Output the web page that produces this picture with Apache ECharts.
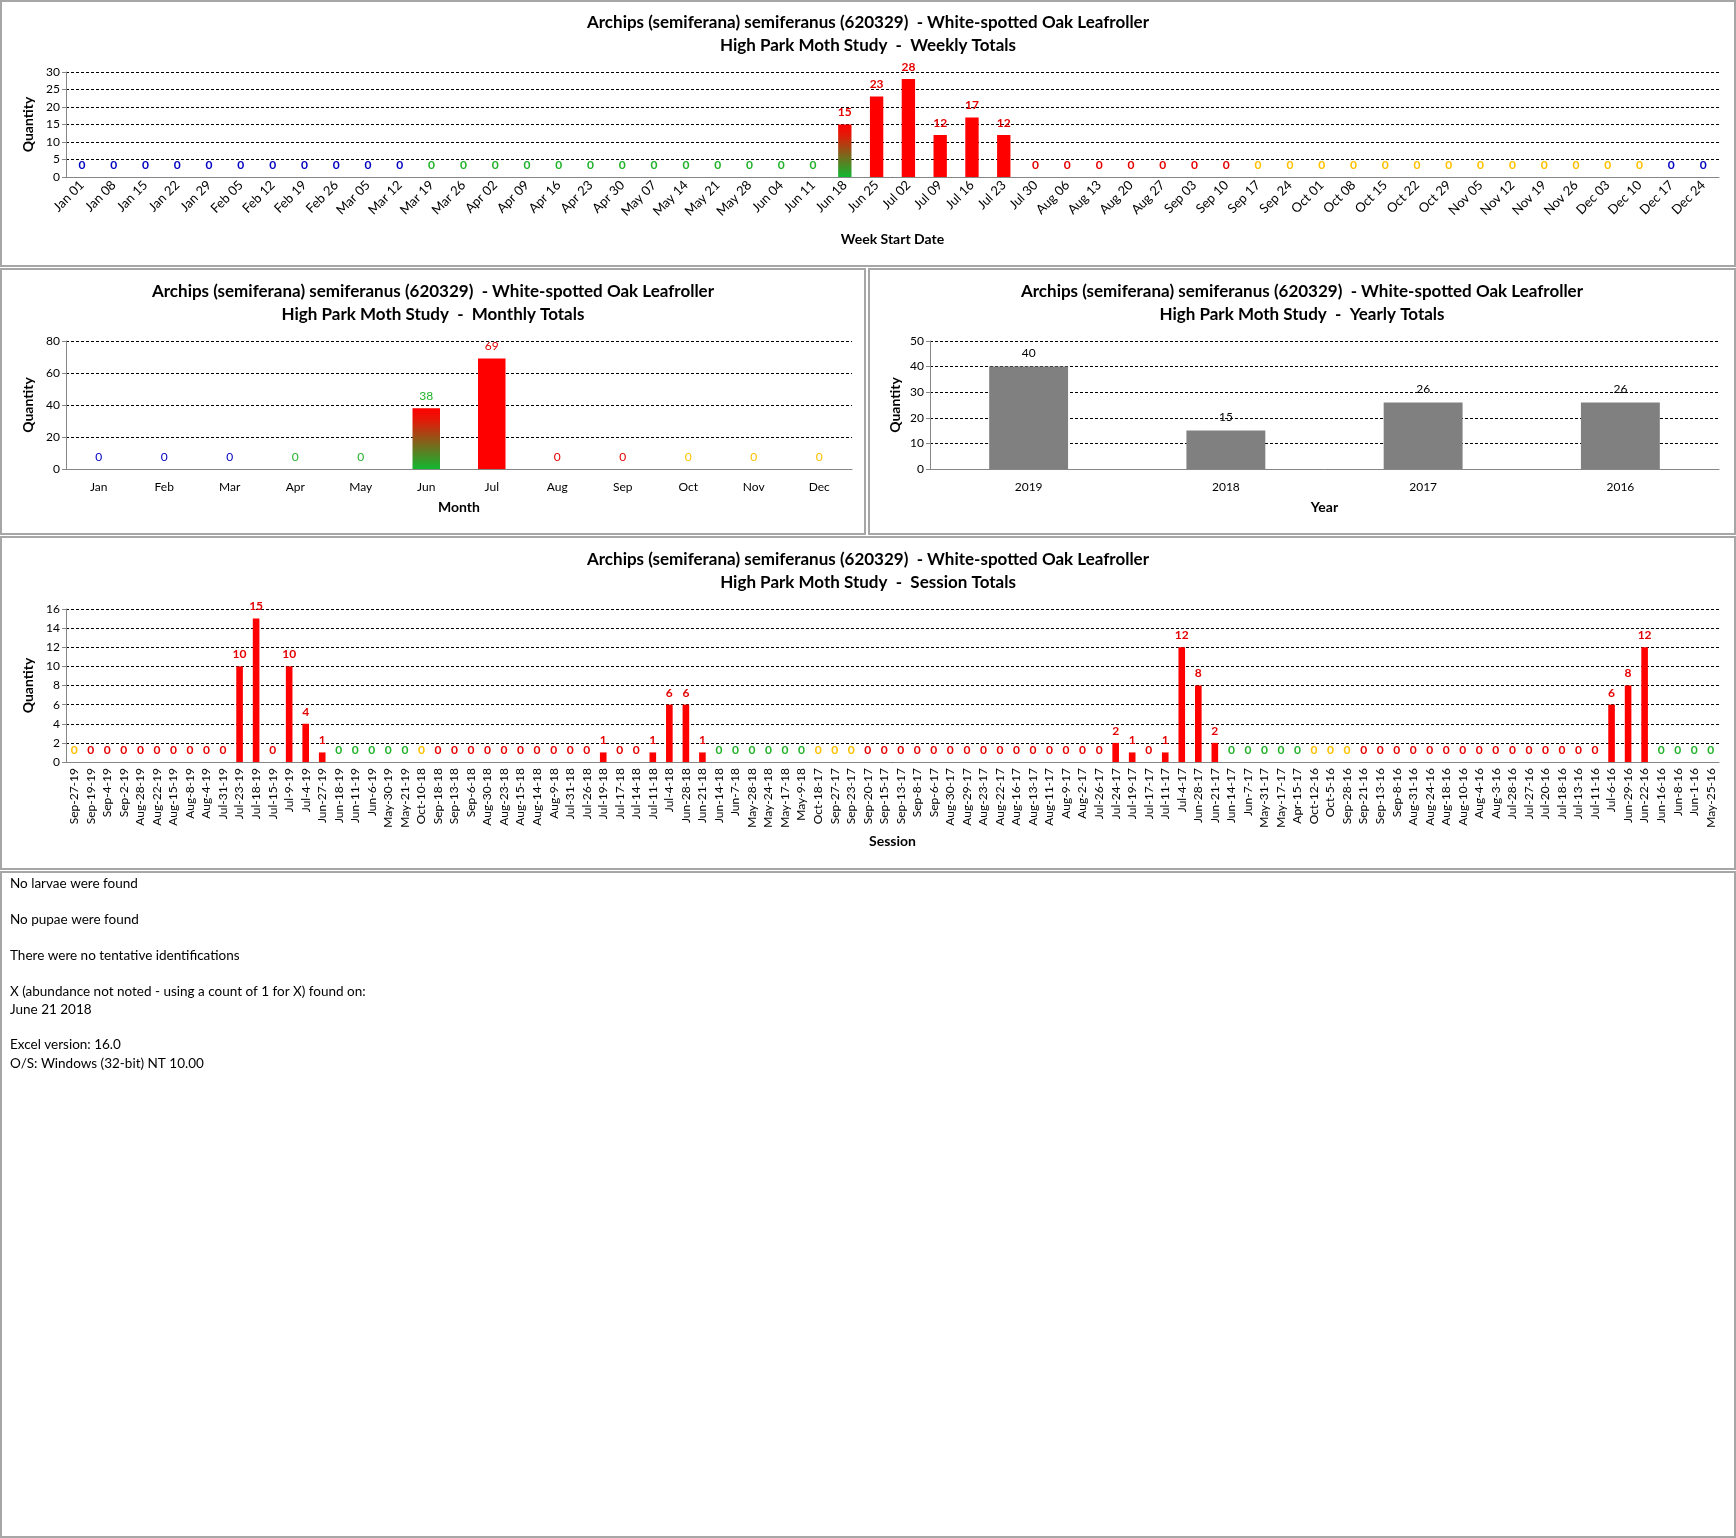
<!DOCTYPE html>
<html>
<head>
<meta charset="utf-8">
<script src="https://cdn.jsdelivr.net/npm/echarts@6/dist/echarts.min.js"></script>
<style>
html, body { margin: 0; padding: 0; background: #fff; }
#main { width: 1736px; height: 1538px; }
</style>
<title>Archips (semiferana) semiferanus - High Park Moth Study</title>
</head>
<body>
<div id="main"></div>
<script type="text/javascript">

var weekLabels = ['Jan 01','Jan 08','Jan 15','Jan 22','Jan 29','Feb 05','Feb 12','Feb 19','Feb 26',
  'Mar 05','Mar 12','Mar 19','Mar 26','Apr 02','Apr 09','Apr 16','Apr 23','Apr 30','May 07','May 14',
  'May 21','May 28','Jun 04','Jun 11','Jun 18','Jun 25','Jul 02','Jul 09','Jul 16','Jul 23','Jul 30',
  'Aug 06','Aug 13','Aug 20','Aug 27','Sep 03','Sep 10','Sep 17','Sep 24','Oct 01','Oct 08','Oct 15',
  'Oct 22','Oct 29','Nov 05','Nov 12','Nov 19','Nov 26','Dec 03','Dec 10','Dec 17','Dec 24'];
var weekValues = [0,0,0,0,0,0,0,0,0,0,0, 0,0,0,0,0,0,0,0,0,0,0,0,0, 15, 23,28,12,17,12,
  0,0,0,0,0,0,0, 0,0,0,0,0,0,0,0,0,0,0,0,0, 0,0];
// b = blue, g = green, r = red, y = yellow, x = green-to-red gradient
var weekColours = 'bbbbbbbbbbbgggggggggggggxrrrrrrrrrrrryyyyyyyyyyyyybb';

var monthLabels = ['Jan','Feb','Mar','Apr','May','Jun','Jul','Aug','Sep','Oct','Nov','Dec'];
var monthValues = [0,0,0,0,0,38,69,0,0,0,0,0];
var monthColours = 'bbbggxrrryyy';

var yearLabels = ['2019','2018','2017','2016'];
var yearValues = [40,15,26,26];

var sessionLabels = [
  'Sep-27-19','Sep-19-19','Sep-4-19','Sep-2-19','Aug-28-19','Aug-22-19','Aug-15-19','Aug-8-19','Aug-4-19',
  'Jul-31-19','Jul-23-19','Jul-18-19','Jul-15-19','Jul-9-19','Jul-4-19','Jun-27-19','Jun-18-19','Jun-11-19',
  'Jun-6-19','May-30-19','May-21-19',
  'Oct-10-18','Sep-18-18','Sep-13-18','Sep-6-18','Aug-30-18','Aug-23-18','Aug-15-18','Aug-14-18','Aug-9-18',
  'Jul-31-18','Jul-26-18','Jul-19-18','Jul-17-18','Jul-14-18','Jul-11-18','Jul-4-18','Jun-28-18','Jun-21-18',
  'Jun-14-18','Jun-7-18','May-28-18','May-24-18','May-17-18','May-9-18',
  'Oct-18-17','Sep-27-17','Sep-23-17','Sep-20-17','Sep-15-17','Sep-13-17','Sep-8-17','Sep-6-17','Aug-30-17',
  'Aug-29-17','Aug-23-17','Aug-22-17','Aug-16-17','Aug-13-17','Aug-11-17','Aug-9-17','Aug-2-17','Jul-26-17',
  'Jul-24-17','Jul-19-17','Jul-17-17','Jul-11-17','Jul-4-17','Jun-28-17','Jun-21-17','Jun-14-17','Jun-7-17',
  'May-31-17','May-17-17','Apr-15-17',
  'Oct-12-16','Oct-5-16','Sep-28-16','Sep-21-16','Sep-13-16','Sep-8-16','Aug-31-16','Aug-24-16','Aug-18-16',
  'Aug-10-16','Aug-4-16','Aug-3-16','Jul-28-16','Jul-27-16','Jul-20-16','Jul-18-16','Jul-13-16','Jul-11-16',
  'Jul-6-16','Jun-29-16','Jun-22-16','Jun-16-16','Jun-8-16','Jun-1-16','May-25-16'];
var sessionValues = [
  0,0,0,0,0,0,0,0,0,0,10,15,0,10,4,1,0,0,0,0,0,
  0,0,0,0,0,0,0,0,0,0,0,1,0,0,1,6,6,1,0,0,0,0,0,0,
  0,0,0,0,0,0,0,0,0,0,0,0,0,0,0,0,0,0,2,1,0,1,12,8,2,0,0,0,0,0,
  0,0,0,0,0,0,0,0,0,0,0,0,0,0,0,0,0,0,6,8,12,0,0,0,0];
var sessionColours =
  'yrrrrrrrrrrrrrrrggggg' +
  'yrrrrrrrrrrrrrrrrrgggggg' +
  'yyyrrrrrrrrrrrrrrrrrrrrrrggggg' +
  'yyyrrrrrrrrrrrrrrrrrrgggg';

var notes = [
  ['No larvae were found', 877],
  ['No pupae were found', 913],
  ['There were no tentative identifications', 949],
  ['X (abundance not noted - using a count of 1 for X) found on:', 985],
  ['June 21 2018', 1003],
  ['Excel version: 16.0', 1038],
  ['O/S: Windows (32-bit) NT 10.00', 1057]
];

var speciesTitle = 'Archips (semiferana) semiferanus (620329)  - White-spotted Oak Leafroller';
var FONT = 'Lato, "Noto Sans", sans-serif';

var palette = { b: '#0000c0', g: '#22b22a', r: '#e60000', y: '#ffc000', x: '#e60000' };

function gradientFill() {
  return new echarts.graphic.LinearGradient(0, 0, 0, 1, [
    { offset: 0, color: '#ff0000' },
    { offset: 0.2, color: '#e21a08' },
    { offset: 1, color: '#10b830' }
  ]);
}

function buildData(values, codes, gradientLabel) {
  return values.map(function (v, i) {
    var c = codes.charAt(i);
    var labelColour = v === 0 ? palette[c] : (c === 'x' ? gradientLabel : palette.r);
    return {
      value: v,
      itemStyle: { color: c === 'x' ? gradientFill() : '#ff0000' },
      label: { color: labelColour }
    };
  });
}

function valueAxis(grid, max, interval, gap) {
  return {
    type: 'value', gridIndex: grid, min: 0, max: max, interval: interval,
    name: 'Quantity', nameLocation: 'middle', nameGap: gap,
    nameTextStyle: { fontWeight: 'bold', fontSize: 14, color: '#000', fontFamily: FONT },
    axisLine: { show: true, lineStyle: { color: '#868686' } },
    axisTick: { show: true, length: 4, lineStyle: { color: '#868686' } },
    axisLabel: { color: '#000', fontSize: 12, margin: 6, fontFamily: FONT },
    splitLine: { lineStyle: { color: '#000', type: [3, 2], width: 1 } }
  };
}

function categoryAxis(grid, data, name, gap, rotate, size, margin) {
  return {
    type: 'category', gridIndex: grid, data: data,
    name: name, nameLocation: 'middle', nameGap: gap,
    nameTextStyle: { fontWeight: 'bold', fontSize: 14, color: '#000', fontFamily: FONT },
    axisLine: { lineStyle: { color: '#868686' } },
    axisTick: { length: 5, lineStyle: { color: '#868686' } },
    axisLabel: { interval: 0, rotate: rotate, color: '#000', fontSize: size, margin: margin, fontFamily: FONT }
  };
}

function titleFor(x, y, subtitle) {
  return {
    text: speciesTitle + '\nHigh Park Moth Study  -  ' + subtitle,
    left: x, top: y, textAlign: 'center', padding: 0,
    textStyle: { fontSize: 17, fontWeight: 'bold', lineHeight: 23, color: '#000', fontFamily: FONT }
  };
}

var panelBorders = [
  [1, 1, 1734, 265],
  [1, 269, 864, 265],
  [869, 269, 866, 265],
  [1, 537, 1734, 332],
  [1, 872, 1734, 665]
].map(function (r) {
  return {
    type: 'rect', silent: true,
    shape: { x: r[0], y: r[1], width: r[2], height: r[3] },
    style: { fill: 'none', stroke: '#a6a6a6', lineWidth: 2 }
  };
});

var noteTexts = notes.map(function (n) {
  return {
    type: 'text', silent: true, x: 10, y: n[1],
    style: { text: n[0], fill: '#000', font: '13.5px ' + FONT, align: 'left', verticalAlign: 'top',
             textAlign: 'left', textVerticalAlign: 'top' }
  };
});

var myChart = echarts.init(document.getElementById('main'));

var option = {
  animation: false,
  backgroundColor: '#fff',
  textStyle: { fontFamily: FONT },
  title: [
    titleFor(868, 11, 'Weekly Totals'),
    titleFor(433, 280, 'Monthly Totals'),
    titleFor(1302, 280, 'Yearly Totals'),
    titleFor(868, 548, 'Session Totals')
  ],
  graphic: { elements: panelBorders.concat(noteTexts) },
  grid: [
    { left: 66, top: 72, width: 1653, height: 105 },
    { left: 66, top: 341, width: 786, height: 128 },
    { left: 930, top: 341, width: 789, height: 128 },
    { left: 66, top: 609, width: 1653, height: 153 }
  ],
  xAxis: [
    categoryAxis(0, weekLabels, 'Week Start Date', 55, 45, 13, 6),
    categoryAxis(1, monthLabels, 'Month', 31, 0, 12, 12),
    categoryAxis(2, yearLabels, 'Year', 31, 0, 12, 12),
    categoryAxis(3, sessionLabels, 'Session', 72, 90, 12, 6)
  ],
  yAxis: [
    valueAxis(0, 30, 5, 31),
    valueAxis(1, 80, 20, 31),
    valueAxis(2, 50, 10, 28),
    valueAxis(3, 16, 2, 31)
  ],
  series: [
    {
      name: 'Weekly', type: 'bar', xAxisIndex: 0, yAxisIndex: 0, barWidth: '42%',
      label: { show: true, position: 'top', distance: 6, fontSize: 12, fontWeight: 'bold' },
      data: buildData(weekValues, weekColours, palette.r)
    },
    {
      name: 'Monthly', type: 'bar', xAxisIndex: 1, yAxisIndex: 1, barWidth: '42%',
      label: { show: true, position: 'top', distance: 6, fontSize: 12 },
      data: buildData(monthValues, monthColours, palette.g)
    },
    {
      name: 'Yearly', type: 'bar', xAxisIndex: 2, yAxisIndex: 2, barWidth: '40%',
      itemStyle: { color: '#808080' },
      label: { show: true, position: 'top', distance: 7, fontSize: 12, color: '#000' },
      data: yearValues
    },
    {
      name: 'Session', type: 'bar', xAxisIndex: 3, yAxisIndex: 3, barWidth: '40%',
      label: { show: true, position: 'top', distance: 6, fontSize: 12, fontWeight: 'bold' },
      data: buildData(sessionValues, sessionColours, palette.r)
    }
  ]
};

myChart.setOption(option);

</script>
</body>
</html>
